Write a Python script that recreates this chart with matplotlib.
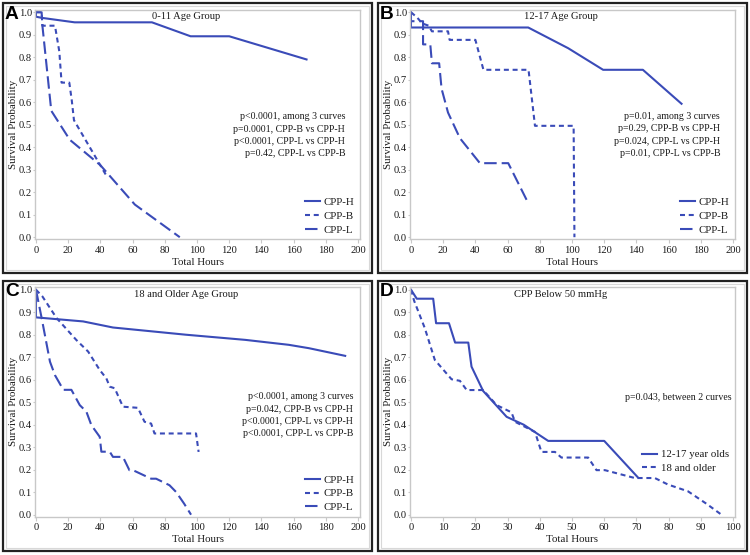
import matplotlib
matplotlib.use("Agg")
import matplotlib.pyplot as plt
from matplotlib.patches import Rectangle

# ---------------- data ----------------
# Panel A: 0-11 Age Group
A_H_x = [0, 0, 3.5, 24, 72, 96, 120, 168]
A_H_y = [1.0, 0.98, 0.975, 0.955, 0.955, 0.893, 0.893, 0.79]
A_B_x = [0, 3.5, 4, 11.8, 14.5, 15.9, 20.7, 22.2, 23.6, 44]
A_B_y = [1.0, 1.0, 0.94, 0.94, 0.825, 0.687, 0.687, 0.61, 0.52, 0.27]
A_L_x = [0, 3.5, 4, 9.5, 21, 40, 61.4, 89.3]
A_L_y = [1.0, 1.0, 0.94, 0.562, 0.433, 0.32, 0.145, 0.0]

# Panel B: 12-17 Age Group
B_H_x = [0, 0, 72.8, 97.6, 119.3, 144, 168]
B_H_y = [1.0, 0.932, 0.932, 0.84, 0.744, 0.744, 0.593]
B_B_x = [0, 4, 7, 11, 13, 23, 24, 40, 45, 73, 77, 101, 101.5]
B_B_y = [1.0, 0.975, 0.95, 0.94, 0.915, 0.915, 0.877, 0.877, 0.744, 0.744, 0.495, 0.495, 0.0]
B_L_x = [0, 0, 7.5, 7.5, 12, 13, 17.5, 19, 23, 30.4, 42.8, 60.4, 71.8]
B_L_y = [1.0, 0.96, 0.96, 0.857, 0.857, 0.773, 0.773, 0.66, 0.554, 0.44, 0.329, 0.329, 0.166]

# Panel C: 18 and Older Age Group
C_H_x = [0, 0, 29.3, 47.8, 93, 130, 157, 169.5, 192]
C_H_y = [1.0, 0.877, 0.859, 0.832, 0.80, 0.777, 0.755, 0.74, 0.706]
C_B_x = [0, 4, 12.8, 25, 32.4, 39.6, 43.7, 45.8, 48.9, 54, 63.3, 67.4, 71.5, 73.6, 99.4, 101]
C_B_y = [1.0, 0.97, 0.874, 0.777, 0.725, 0.643, 0.606, 0.569, 0.562, 0.48, 0.475, 0.413, 0.405, 0.361, 0.361, 0.279]
C_L_x = [0, 3.5, 8.7, 11.8, 17, 22, 27.2, 31.3, 34.4, 39.6, 40.6, 45.8, 47.8, 54, 58,
         60.2, 71.5, 74.6, 82.9, 87, 92, 96.3]
C_L_y = [1.0, 0.875, 0.68, 0.62, 0.555, 0.555, 0.487, 0.458, 0.398, 0.346, 0.28, 0.28, 0.257, 0.257, 0.198,
         0.198, 0.16, 0.16, 0.131, 0.101, 0.049, 0.0]

# Panel D: CPP Below 50 mmHg
D_Y_x = [0, 1.8, 6.9, 7.8, 11.8, 13.7, 17.8, 18.8, 22.4, 29.7, 35, 42.6, 60, 70.5]
D_Y_y = [1.0, 0.96, 0.96, 0.851, 0.851, 0.765, 0.765, 0.658, 0.55, 0.435, 0.40, 0.328, 0.328, 0.165]
D_O_x = [0, 1, 4.3, 7.4, 12.6, 15.2, 17.3, 22.4, 26.6, 31.2, 32.3, 38.5, 40.5, 44.7, 46.7, 55, 57.6,
         60.2, 69.5, 75.7, 79.8, 86, 91.7, 96.4]
D_O_y = [1.0, 0.95, 0.829, 0.688, 0.602, 0.595, 0.554, 0.554, 0.487, 0.455, 0.413, 0.368, 0.279, 0.279,
         0.254, 0.254, 0.198, 0.198, 0.163, 0.163, 0.134, 0.104, 0.049, 0.0]

A_labels = ["CPP-H", "CPP-B", "CPP-L"]
D_labels = ["12-17 year olds", "18 and older"]
titles = ["0-11 Age Group", "12-17 Age Group", "18 and Older Age Group", "CPP Below 50 mmHg"]
letters = ["A", "B", "C", "D"]
ptexts_A = ["p<0.0001, among 3 curves", "p=0.0001, CPP-B vs CPP-H",
            "p<0.0001, CPP-L vs CPP-H", "p=0.42, CPP-L vs CPP-B"]
ptexts_B = ["p=0.01, among 3 curves", "p=0.29, CPP-B vs CPP-H",
            "p=0.024, CPP-L vs CPP-H", "p=0.01, CPP-L vs CPP-B"]
ptexts_C = ["p<0.0001, among 3 curves", "p=0.042, CPP-B vs CPP-H",
            "p<0.0001, CPP-L vs CPP-H", "p<0.0001, CPP-L vs CPP-B"]
ptexts_D = ["p=0.043, between 2 curves"]
yticks = [0.0, 0.1, 0.2, 0.3, 0.4, 0.5, 0.6, 0.7, 0.8, 0.9, 1.0]
xticks_abc = [0, 20, 40, 60, 80, 100, 120, 140, 160, 180, 200]
xticks_d = [0, 10, 20, 30, 40, 50, 60, 70, 80, 90, 100]

# ---------------- style ----------------
W, H = 750, 555
SERIF = ["Liberation Serif", "DejaVu Serif"]
BLUE = "#3a4bb8"
GRAY = "#c8c8c8"
TXT = "#1a1a1a"
styles = {
    "H": dict(color=BLUE, lw=1.5, ls="-"),
    "B": dict(color=BLUE, lw=1.5, ls=(0, (2.4, 1.8))),
    "L": dict(color=BLUE, lw=1.5, ls=(0, (6, 2.4))),
}

fig = plt.figure(figsize=(W / 100, H / 100), dpi=100)
fig.patch.set_facecolor("white")


def px_rect(x0, y0, x1, y1):
    """pixel box (top-left origin) -> figure fraction [l, b, w, h]"""
    return [x0 / W, 1 - y1 / H, (x1 - x0) / W, (y1 - y0) / H]


def make_panel(ox, oy, xmax, xticks, letter, title):
    fig.patches.append(Rectangle(((ox + 3) / W, 1 - (oy + 273) / H), 369 / W, 270 / H,
                                 transform=fig.transFigure, fill=False, ec="#222222", lw=1.6))
    fig.patches.append(Rectangle(((ox + 6) / W, 1 - (oy + 270) / H), 363 / W, 264 / H,
                                 transform=fig.transFigure, fill=False, ec="#d8d8d8", lw=0.8))
    ax = fig.add_axes(px_rect(ox + 35, oy + 9.5, ox + 360, oy + 239))
    scale = xmax / 200.0
    ax.set_xlim(-0.6 * scale, 201.2 * scale)
    ax.set_ylim(-0.008, 1.012)
    for s in ax.spines.values():
        s.set_color(GRAY)
        s.set_linewidth(1.0)
    ax.set_xticks(xticks)
    ax.set_yticks(yticks)
    ax.set_yticklabels([f"{v:.1f}" for v in yticks])
    ax.tick_params(axis="x", length=3, width=0.8, color=GRAY, labelsize=7.6,
                   labelcolor=TXT, pad=2)
    ax.tick_params(axis="y", length=1.5, width=0.8, color=GRAY, labelsize=7.6,
                   labelcolor=TXT, pad=0.5)
    for lab in ax.get_xticklabels() + ax.get_yticklabels():
        lab.set_family(SERIF)
    ax.set_xlabel("Total Hours", family=SERIF, fontsize=7.8, color=TXT, labelpad=2)
    ax.set_ylabel("Survival Probability", family=SERIF, fontsize=7.8, color=TXT, labelpad=1)
    ax.text(0.465, 0.968, title, transform=ax.transAxes, ha="center", va="center",
            family=SERIF, fontsize=7.6, color=TXT)
    fig.text((ox + 5) / W, 1 - (oy + 14.5) / H, letter, ha="left", va="center",
             family=["Liberation Sans", "DejaVu Sans"], fontweight="bold", fontsize=13.8,
             color="black")
    return ax


def ptext(ax, x, lines, y0, dy=0.055):
    for i, t in enumerate(lines):
        ax.text(x, y0 - i * dy, t, ha="right", va="center", family=SERIF, fontsize=7.1, color=TXT)


def add_legend(ax, handles, labels, anchor, loc):
    leg = ax.legend(handles, labels, loc=loc, bbox_to_anchor=anchor, frameon=False,
                    handlelength=1.4, handletextpad=0.35, labelspacing=0.38, borderpad=0.1,
                    borderaxespad=0.3, prop=dict(family=SERIF, size=7.8))
    for t in leg.get_texts():
        t.set_color(TXT)
    return leg


panels = [
    (0, 0, 200, xticks_abc, (A_H_x, A_H_y), (A_B_x, A_B_y), (A_L_x, A_L_y), ptexts_A, 192, 0.535),
    (375, 0, 200, xticks_abc, (B_H_x, B_H_y), (B_B_x, B_B_y), (B_L_x, B_L_y), ptexts_B, 192, 0.536),
    (0, 277.5, 200, xticks_abc, (C_H_x, C_H_y), (C_B_x, C_B_y), (C_L_x, C_L_y), ptexts_C, 197, 0.524),
]
for i, (ox, oy, xmax, xt, h, b, l, pt, px, py) in enumerate(panels):
    ax = make_panel(ox, oy, xmax, xt, letters[i], titles[i])
    lh, = ax.plot(h[0], h[1], **styles["H"])
    lb, = ax.plot(b[0], b[1], **styles["B"])
    ll, = ax.plot(l[0], l[1], **styles["L"])
    ptext(ax, px, pt, py)
    add_legend(ax, [lh, lb, ll], A_labels, (0.997, 0.0), "lower right")

axd = make_panel(375, 277.5, 100, xticks_d, letters[3], titles[3])
l1, = axd.plot(D_Y_x, D_Y_y, **styles["H"])
l2, = axd.plot(D_O_x, D_O_y, **styles["B"])
ptext(axd, 99.5, ptexts_D, 0.523)
add_legend(axd, [l1, l2], D_labels, (0.995, 0.24), "center right")

fig.savefig("out.png", dpi=100, facecolor="white")
